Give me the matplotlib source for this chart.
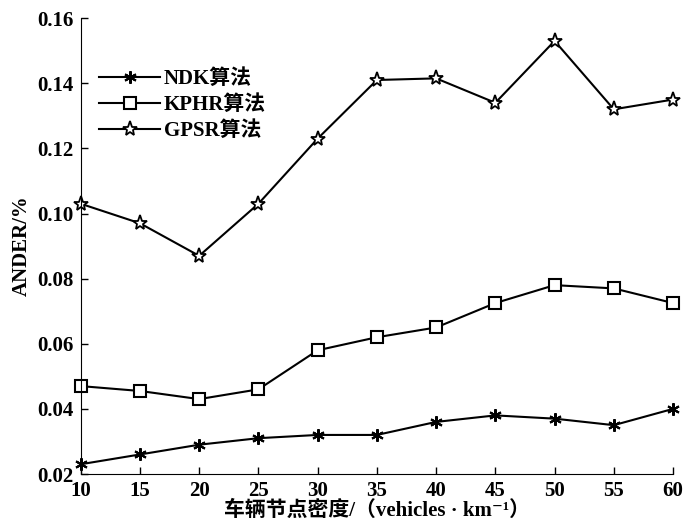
import matplotlib
matplotlib.use("Agg")
import matplotlib.pyplot as plt

# ---------- Data ----------
density = [10, 15, 20, 25, 30, 35, 40, 45, 50, 55, 60]
ndk = [0.023, 0.026, 0.029, 0.031, 0.032, 0.032, 0.036, 0.038, 0.037, 0.035, 0.040]
kphr = [0.047, 0.0455, 0.043, 0.046, 0.058, 0.062, 0.065, 0.0725, 0.078, 0.077, 0.0725]
gpsr = [0.103, 0.097, 0.087, 0.103, 0.123, 0.141, 0.1415, 0.134, 0.153, 0.132, 0.135]
yticks = [0.02, 0.04, 0.06, 0.08, 0.10, 0.12, 0.14, 0.16]
ytick_labels = ["0.02", "0.04", "0.06", "0.08", "0.10", "0.12", "0.14", "0.16"]

fonts = ["Liberation Serif", "Noto Sans CJK SC", "DejaVu Serif"]
plt.rcParams["font.family"] = fonts
plt.rcParams["font.weight"] = "bold"
fs = 15

fig = plt.figure(figsize=(6.84, 5.24), dpi=100)
ax = fig.add_axes([0.118, 0.0954, 0.866, 0.870])

ax.plot(density, ndk, color="black", lw=1.5, marker=(6, 2, 0), ms=9,
        mew=1.5, label="NDK算法")
ax.plot(density, kphr, color="black", lw=1.5, marker="s", ms=9,
        mfc="white", mew=1.5, label="KPHR算法")
ax.plot(density, gpsr, color="black", lw=1.5, marker="*", ms=11,
        mfc="white", mew=1.3, label="GPSR算法")

ax.set_xlim(10, 60)
ax.set_ylim(0.02, 0.16)
ax.set_xticks(density)
ax.set_yticks(yticks)
ax.set_yticklabels(ytick_labels)
ax.tick_params(direction="in", length=5, width=1, labelsize=fs, pad=5)
for lab in ax.get_xticklabels() + ax.get_yticklabels():
    lab.set_fontweight("bold")
ax.spines["top"].set_visible(False)
ax.spines["right"].set_visible(False)
for line in ax.get_lines():
    line.set_clip_on(False)

ax.set_xlabel("车辆节点密度/（vehicles · km⁻¹）", fontsize=fs,
              fontweight="bold", labelpad=0)
ax.set_ylabel("ANDER/%", fontsize=fs, fontweight="bold", labelpad=4)

leg = ax.legend(loc="upper left", bbox_to_anchor=(0.0, 0.93), frameon=False,
                handlelength=2.9, fontsize=fs, labelspacing=0.3,
                handletextpad=0.2)
for t in leg.get_texts():
    t.set_fontweight("bold")

fig.savefig("out.png", dpi=100)
